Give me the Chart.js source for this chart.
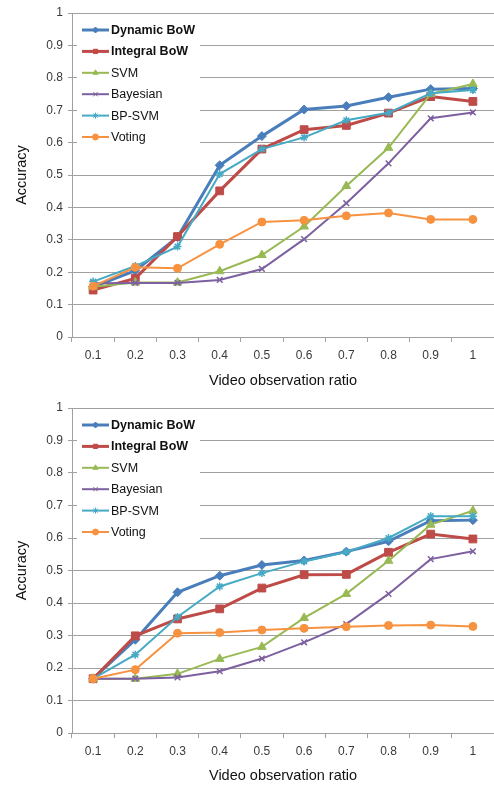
<!DOCTYPE html>
<html>
<head>
<meta charset="utf-8">
<script src="https://cdn.jsdelivr.net/npm/chart.js@4/dist/chart.umd.min.js"></script>
<style>
  html, body { margin: 0; padding: 0; background: #fff; }
  .panel { position: absolute; left: 0; width: 494px; }
  #p1 { top: 0; height: 392px; }
  #p2 { top: 395px; height: 390px; }
</style>
</head>
<body>
<div class="panel" id="p1"><canvas id="chartTop" width="494" height="392"></canvas></div>
<div class="panel" id="p2"><canvas id="chartBottom" width="494" height="390"></canvas></div>
<script>
// ---- data ----
const ratios = ["0.1", "0.2", "0.3", "0.4", "0.5", "0.6", "0.7", "0.8", "0.9", "1"];
const yTicks = [0, 0.1, 0.2, 0.3, 0.4, 0.5, 0.6, 0.7, 0.8, 0.9, 1];

// top panel
const topDynamic  = [0.155, 0.205, 0.308, 0.530, 0.620, 0.702, 0.713, 0.740, 0.765, 0.767];
const topIntegral = [0.145, 0.181, 0.310, 0.451, 0.580, 0.640, 0.653, 0.691, 0.742, 0.727];
const topSVM      = [0.155, 0.168, 0.168, 0.203, 0.253, 0.341, 0.466, 0.584, 0.750, 0.781];
const topBayes    = [0.166, 0.167, 0.167, 0.176, 0.210, 0.302, 0.413, 0.536, 0.675, 0.693];
const topBPSVM    = [0.171, 0.219, 0.279, 0.503, 0.580, 0.616, 0.669, 0.692, 0.752, 0.762];
const topVoting   = [0.157, 0.215, 0.212, 0.286, 0.355, 0.360, 0.374, 0.383, 0.363, 0.363];

// bottom panel
const botDynamic  = [0.167, 0.287, 0.433, 0.484, 0.517, 0.531, 0.558, 0.590, 0.653, 0.655];
const botIntegral = [0.167, 0.299, 0.351, 0.382, 0.446, 0.487, 0.488, 0.556, 0.612, 0.597];
const botSVM      = [0.167, 0.167, 0.182, 0.228, 0.265, 0.354, 0.428, 0.530, 0.641, 0.684];
const botBayes    = [0.167, 0.167, 0.171, 0.190, 0.229, 0.279, 0.335, 0.428, 0.535, 0.559];
const botBPSVM    = [0.167, 0.241, 0.357, 0.451, 0.492, 0.528, 0.557, 0.600, 0.667, 0.667];
const botVoting   = [0.167, 0.195, 0.307, 0.309, 0.317, 0.322, 0.327, 0.331, 0.332, 0.328];

const seriesNames = ["Dynamic BoW", "Integral BoW", "SVM", "Bayesian", "BP-SVM", "Voting"];

// ---- styling ----
const FONT = "'Liberation Sans', Arial, sans-serif";
const GRID = "#a0a0a0";
const TEXT = "#3a3a3a";
const STYLES = [
  { color: "#4A7EBB", width: 3, point: "rectRot", r: 4.5, bold: true },
  { color: "#BE4B48", width: 3, point: "rect", r: 5.5, bold: true },
  { color: "#98B954", width: 2, point: "triangle", r: 5, bold: false },
  { color: "#7D60A0", width: 2, point: "crossRot", r: 4, bold: false },
  { color: "#46AAC5", width: 2, point: "star", r: 4, bold: false },
  { color: "#F69240", width: 2, point: "circle", r: 4, bold: false }
];

function makeDatasets(values) {
  // like Excel, later series are drawn over earlier ones
  return values.map((data, i) => {
    const s = STYLES[i];
    return {
      label: seriesNames[i],
      data,
      borderColor: s.color,
      backgroundColor: s.color,
      pointBackgroundColor: s.color,
      pointBorderColor: s.color,
      borderWidth: s.width,
      pointStyle: s.point,
      pointRadius: s.r,
      pointBorderWidth: s.point === "crossRot" || s.point === "star" ? 1.5 : 1,
      tension: 0,
      order: values.length - i,
      _bold: s.bold
    };
  });
}

// legend drawn inside the plot, top-left, like the original
const insideLegend = {
  id: "insideLegend",
  beforeDatasetsDraw(chart) {
    const { ctx, chartArea } = chart;
    const x0 = chartArea.left, y0 = chartArea.top;
    ctx.save();
    ctx.fillStyle = "#fff";
    ctx.fillRect(x0 + 5, y0 + 1, 123, 139);
    chart.data.datasets.forEach((ds, i) => {
      const y = y0 + 17 + i * 21.4;
      ctx.strokeStyle = ds.borderColor;
      ctx.lineWidth = ds.borderWidth;
      ctx.beginPath();
      ctx.moveTo(x0 + 10, y);
      ctx.lineTo(x0 + 37, y);
      ctx.stroke();
      ctx.fillStyle = ds.pointBackgroundColor;
      ctx.strokeStyle = ds.pointBorderColor;
      ctx.lineWidth = 1;
      Chart.helpers.drawPoint(ctx, { pointStyle: ds.pointStyle, radius: 3, borderWidth: 1, rotation: 0 }, x0 + 23.5, y);
      ctx.fillStyle = "#111";
      ctx.font = (ds._bold ? "bold " : "") + "12.5px " + FONT;
      ctx.textBaseline = "middle";
      ctx.textAlign = "left";
      ctx.fillText(ds.label, x0 + 39, y + 0.5);
    });
    ctx.restore();
  }
};

function buildChart(canvasId, values, xAxisHeight, titlePad) {
  return new Chart(document.getElementById(canvasId), {
    type: "line",
    data: { labels: ratios, datasets: makeDatasets(values) },
    options: {
      responsive: false,
      animation: false,
      layout: { autoPadding: false, padding: { top: 13, right: 0, left: 0, bottom: 0 } },
      plugins: { legend: { display: false }, tooltip: { enabled: false } },
      scales: {
        x: {
          offset: true,
          grid: { offset: true, drawOnChartArea: false, drawTicks: true, tickLength: 5, color: GRID },
          border: { color: GRID, width: 1 },
          ticks: { color: TEXT, font: { family: FONT, size: 12 }, padding: 6, maxRotation: 0 },
          title: { display: true, text: "Video observation ratio", color: "#111", font: { family: FONT, size: 14.5 }, padding: { bottom: titlePad } },
          afterFit(scale) {
            scale.height = xAxisHeight;
            scale.paddingLeft = 0;
            scale.paddingRight = 0;
          }
        },
        y: {
          min: 0,
          max: 1,
          afterBuildTicks(scale) { scale.ticks = yTicks.map(v => ({ value: v })); },
          grid: { color: GRID, lineWidth: 1, drawTicks: true, tickLength: 4 },
          border: { color: GRID, width: 1 },
          ticks: {
            color: TEXT,
            font: { family: FONT, size: 12 },
            padding: 5,
            callback: v => String(Math.round(v * 10) / 10)
          },
          title: { display: true, text: "Accuracy", color: "#111", font: { family: FONT, size: 14.5 }, padding: { top: 13 } },
          afterFit(scale) { scale.width = 72; }
        }
      }
    },
    plugins: [insideLegend]
  });
}

buildChart("chartTop", [topDynamic, topIntegral, topSVM, topBayes, topBPSVM, topVoting], 55, 2.5);
buildChart("chartBottom", [botDynamic, botIntegral, botSVM, botBayes, botBPSVM, botVoting], 52, 0.5);
</script>
</body>
</html>
